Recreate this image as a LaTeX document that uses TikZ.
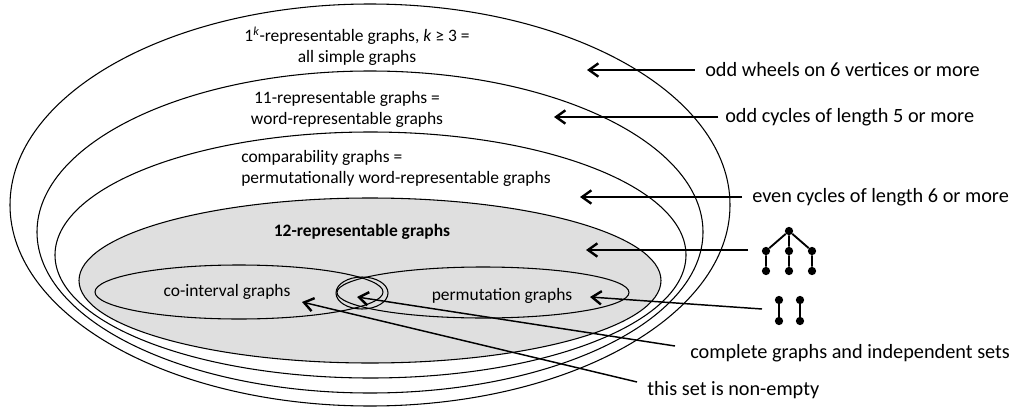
\documentclass[tikz,border=0pt]{standalone}
\usepackage{fontspec}
\setmainfont{Carlito}
\usetikzlibrary{arrows.meta}
\definecolor{setgray}{RGB}{223,223,223}
\begin{document}
\begin{tikzpicture}[x=0.75pt,y=-0.75pt,
  set/.style={draw=black, line width=0.8pt},
  lab/.style={inner sep=0pt, font=\fontsize{13.1}{15.75}\selectfont},
  rlab/.style={inner sep=0pt, anchor=west, font=\fontsize{15.2}{17}\selectfont},
  arr/.style={line width=1.1pt, -{Straight Barb[length=7pt,width=10pt,line width=1.8pt]}},
  dot/.style={circle, fill=black, inner sep=0pt, minimum size=6.2pt},
  gedge/.style={line width=1.4pt}]
\useasboundingbox (0,0) rectangle (1021,407);
% nested sets
\draw[set] (370,205) ellipse [x radius=360, y radius=201];
\draw[set] (370,232) ellipse [x radius=333, y radius=161];
\draw[set] (370.5,255) ellipse [x radius=315.5, y radius=123];
\filldraw[set, fill=setgray] (370,280.5) ellipse [x radius=291, y radius=82.5];
\draw[set] (239,292) ellipse [x radius=144, y radius=27];
\draw[set] (483,292.5) ellipse [x radius=146, y radius=25.5];
\draw[set] (362,293) ellipse [x radius=26, y radius=16];
% set labels
\node[lab, align=center] (s1) at (357,46) {1\textsuperscript{\itshape k}-representable graphs, \textit{k} ≥ 3 =\\all simple graphs};
\node[lab, align=center] (s2) at (347,109) {11-representable graphs =\\word-representable graphs};
\node[lab, align=left, anchor=west] (s3) at (241,168) {comparability graphs =\\permutationally word-representable graphs};
\node[lab, font=\fontsize{13.1}{15.75}\selectfont\bfseries] (s4) at (362,232) {12-representable graphs};
\node[lab] (s5) at (227,292) {co-interval graphs};
\node[lab] (s6) at (502,296) {permutation graphs};
% right labels
\node[rlab] (r1) at (705,70) {odd wheels on 6 vertices or more};
\node[rlab] (r2) at (725,117) {odd cycles of length 5 or more};
\node[rlab] (r3) at (752,197) {even cycles of length 6 or more};
\node[rlab] (r6) at (690,353) {complete graphs and independent sets};
\node[rlab] (r7) at (647,390) {this set is non-empty};
% tree graph
\node[dot] (tr) at (789,231) {};
\node[dot] (ta) at (766,251) {};
\node[dot] (tb) at (789,251) {};
\node[dot] (tc) at (812,251) {};
\node[dot] (ta2) at (766,271) {};
\node[dot] (tb2) at (789,271) {};
\node[dot] (tc2) at (812,271) {};
\draw[gedge] (tr) -- (ta) (tr) -- (tb) (tr) -- (tc) (ta) -- (ta2) (tb) -- (tb2) (tc) -- (tc2);
% two edges
\node[dot] (pa) at (779,300) {};
\node[dot] (pa2) at (779,321) {};
\node[dot] (pb) at (800,300) {};
\node[dot] (pb2) at (800,321) {};
\draw[gedge] (pa) -- (pa2) (pb) -- (pb2);
% arrow ends
\coordinate (t1) at (587,70);
\coordinate (t2) at (554,117);
\coordinate (t3) at (580,197);
\coordinate (t4) at (586,250);
\coordinate (t5) at (590,297);
\coordinate (t6) at (357,297);
\coordinate (t7) at (302,302);
\coordinate (treeIn) at (748,250);
\coordinate (pairIn) at (762,309);
\coordinate (c6) at (675,346);
\coordinate (c7) at (637,382);
\draw[arr, shorten <=7.5pt] (r1.west) -- (t1);
\draw[arr, shorten <=5pt] (r2.west) -- (t2);
\draw[arr, shorten <=7.5pt] (r3.west) -- (t3);
\draw[arr] (treeIn) -- (t4);
\draw[arr] (pairIn) -- (t5);
\draw[arr] (c6) -- (t6);
\draw[arr] (c7) -- (t7);
\end{tikzpicture}
\end{document}
